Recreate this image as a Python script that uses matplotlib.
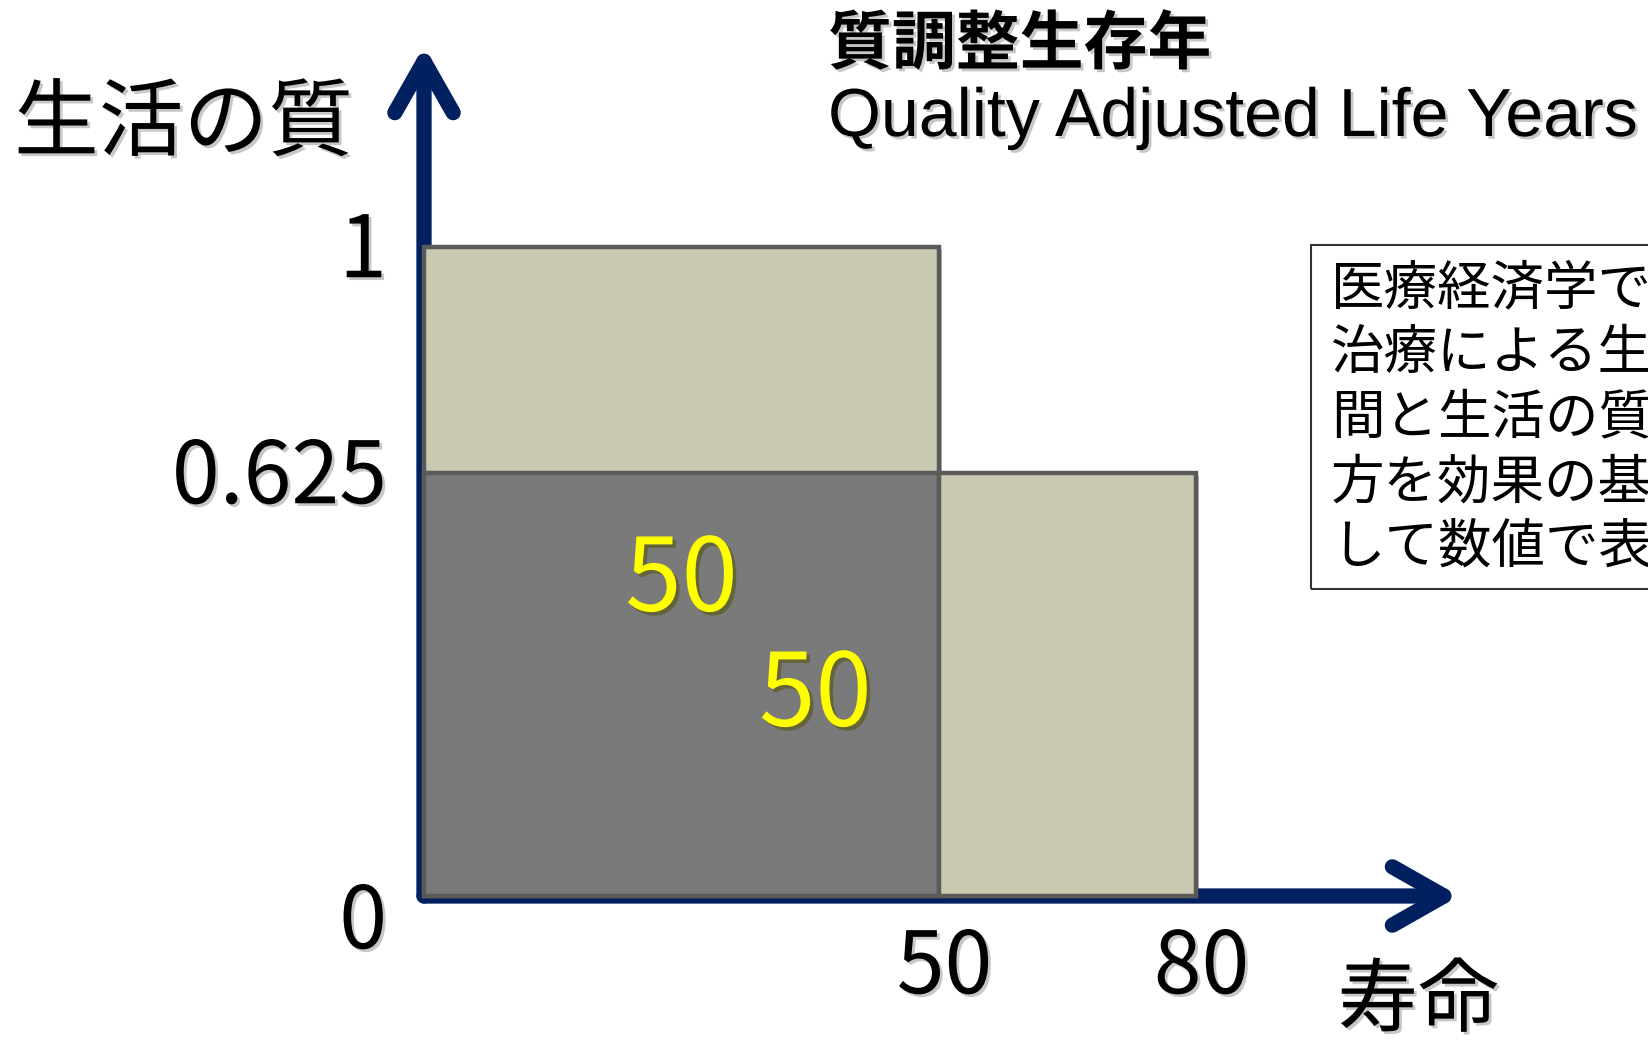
import numpy as np
import matplotlib
matplotlib.use("Agg")
import matplotlib.pyplot as plt
from matplotlib import patheffects as pe
from matplotlib.patches import ArrowStyle, Rectangle

plt.rcParams['font.family'] = ['Noto Sans CJK JP', 'DejaVu Sans']

# ---------------- data ----------------
block_start = [0, 0, 50]          # 寿命 (start of each block)
block_width = [50, 50, 30]        # years
block_height = [1.0, 0.625, 0.625]  # 生活の質
block_fill = ['#C9C9B1', '#7A7A7A', '#C9C9B1']

x_ticks = [50, 80]
x_tick_labels = ['50', '80']
y_ticks = [0, 0.625, 1]
y_tick_labels = ['0', '0.625', '1']

qaly_labels = ['50', '50']
qaly_x = [25, 38]
qaly_y = [0.465, 0.295]

title_jp = '質調整生存年'
title_en = 'Quality Adjusted Life Years'
y_label = '生活の質'
x_label = '寿命'
note_lines = ['医療経済学で', '治療による生存', '間と生活の質',
              '方を効果の基', 'して数値で表す']

# ---------------- figure ----------------
W, H = 1648, 1048
fig = plt.figure(figsize=(W / 100, H / 100), dpi=100)
fig.patch.set_facecolor('white')


def fx(px):
    return px / W


def fy(py):
    return 1 - py / H


def piecewise(src, dst):
    src = np.asarray(src, float)
    dst = np.asarray(dst, float)

    def make(a, b):
        s0 = (b[1] - b[0]) / (a[1] - a[0])
        s1 = (b[-1] - b[-2]) / (a[-1] - a[-2])

        def f(v):
            v = np.asarray(v, float)
            out = np.interp(v, a, b)
            out = np.where(v < a[0], b[0] + (v - a[0]) * s0, out)
            out = np.where(v > a[-1], b[-1] + (v - a[-1]) * s1, out)
            return out
        return f
    return make(src, dst), make(dst, src)


ax = fig.add_axes([fx(424), fy(896), (1196 - 424) / W, (896 - 247) / H])
ax.set_xscale('function', functions=piecewise([0, 50, 80], [0, 515, 772]))
ax.set_yscale('function', functions=piecewise([0, 0.625, 1], [0, 423, 649]))
ax.set_xlim(0, 80)
ax.set_ylim(0, 1)
ax.axis('off')

navy = '#002060'
arrow_kw = dict(arrowstyle=ArrowStyle('->', head_length=37, head_width=21),
                mutation_scale=1, lw=11, color=navy, shrinkA=0, shrinkB=0,
                capstyle='round', joinstyle='round')
ax.annotate('', xy=(0, 1.31), xytext=(0, 0), xycoords='axes fraction',
            textcoords='axes fraction', arrowprops=arrow_kw, zorder=1,
            annotation_clip=False)
ax.annotate('', xy=(1.341, 0), xytext=(0, 0), xycoords='axes fraction',
            textcoords='axes fraction', arrowprops=arrow_kw, zorder=1,
            annotation_clip=False)

bars = ax.bar(block_start, block_height, width=block_width, align='edge',
              color=block_fill, edgecolor='#5A5A5A', linewidth=3.2,
              zorder=3, clip_on=False)
for b in bars:
    b.set_path_effects([pe.SimplePatchShadow(offset=(2.5, -2.5), alpha=0.35),
                        pe.Normal()])

txt_shadow = [pe.SimplePatchShadow(offset=(2, -2), alpha=0.22), pe.Normal()]

# tick labels
for v, lab in zip(x_ticks, x_tick_labels):
    ax.annotate(lab, xy=(v, 0), xytext=(4, -73 * 0.72), textcoords='offset points',
                ha='center', va='center', fontsize=62, color='black',
                annotation_clip=False, path_effects=txt_shadow)
for v, lab in zip(y_ticks, y_tick_labels):
    dy = -28 if v == 0 else -6
    ax.annotate(lab, xy=(0, v), xytext=(-37 * 0.72, dy * 0.72), textcoords='offset points',
                ha='right', va='center', fontsize=62, color='black',
                annotation_clip=False, path_effects=txt_shadow)

# QALY values
for x, y, lab in zip(qaly_x, qaly_y, qaly_labels):
    ax.text(x, y, lab, ha='center', va='center', fontsize=73, color='#FFFF00',
            zorder=5, path_effects=[pe.SimplePatchShadow(offset=(2.5, -2.5), alpha=0.5),
                                    pe.Normal()])

# axis labels and titles
fig.text(fx(14), fy(125), y_label, ha='left', va='center', fontsize=61,
         path_effects=txt_shadow)
fig.text(fx(1418), fy(1002), x_label, ha='center', va='center', fontsize=58,
         path_effects=txt_shadow)
fig.text(fx(828), fy(45), title_jp, ha='left', va='center', fontsize=46,
         fontweight='bold', path_effects=txt_shadow)
fig.text(fx(828), fy(118), title_en, ha='left', va='center', fontsize=49,
         family=['Liberation Sans', 'DejaVu Sans'], path_effects=txt_shadow)

# note box
fig.patches.append(Rectangle((fx(1311), fy(589)), fx(1750 - 1311), (589 - 245) / H,
                             transform=fig.transFigure, fill=False,
                             edgecolor='#333333', linewidth=1.5))
for i, line in enumerate(note_lines):
    fig.text(fx(1331), fy(289 + 64.5 * i), line, ha='left', va='center',
             fontsize=38.5)

fig.savefig('out.png', dpi=100)
